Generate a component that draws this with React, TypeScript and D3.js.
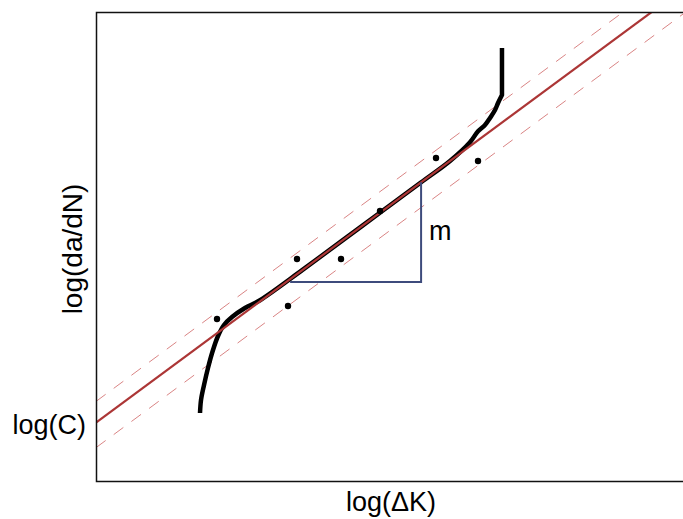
import React, { useEffect, useRef } from 'react';
import * as d3 from 'd3';

// Paris law fit: log(da/dN) = log(C) + m * log(dK)
const logC = 1.0;
const slope = 0.745;
const bandOffsets = [0.36, -0.43];

// crack growth curve (log dK, log da/dN); last point is the vertical tail top
const curveX = [1.763, 1.78, 1.831, 1.898, 1.983, 2.068, 2.169, 2.305, 2.525, 2.78, 3.5, 4.5, 5.5, 6.0, 6.339, 6.475, 6.593, 6.678, 6.763, 6.814, 6.881];
const curveY = [1.162, 1.385, 1.641, 1.932, 2.239, 2.479, 2.667, 2.803, 2.957, 3.09, 3.608, 4.353, 5.098, 5.47, 5.79, 5.98, 6.085, 6.205, 6.342, 6.462, 6.598];
const tailTopY = 7.402;

// measured points
const pointX = [2.051, 3.407, 4.153, 3.254, 4.814, 5.763, 6.475];
const pointY = [2.769, 3.795, 3.795, 2.991, 4.615, 5.521, 5.47];

// slope triangle
const triX = [3.29, 5.51];
const triBase = 3.4;

const xLabel = 'log(\u0394K)';
const yLabel = 'log(da/dN)';
const cLabel = 'log(C)';
const mLabel = 'm';

function App() {
  const svgRef = useRef<SVGSVGElement>(null);

  useEffect(() => {
    const svg = d3.select(svgRef.current);
    svg.selectAll('*').remove();

    const width = 683;
    const height = 519;
    const left = 96.5;
    const top = 12.5;
    const bottom = 481.5;
    const right = 700;

    svg.attr('width', width).attr('height', height);

    const x = d3.scaleLinear().domain([0, 10]).range([96, 686]);
    const y = d3.scaleLinear().domain([0, 8]).range([481, 13]);
    const font = 'Arial, "Liberation Sans", sans-serif';

    svg.append('rect').attr('width', width).attr('height', height).attr('fill', '#fff');

    svg.append('defs').append('clipPath').attr('id', 'plotclip')
      .append('rect').attr('x', left).attr('y', top).attr('width', right - left).attr('height', bottom - top);

    const plot = svg.append('g').attr('clip-path', 'url(#plotclip)');
    const fit = (v: number) => logC + slope * v;
    const xs = [0, 10];

    const lineGen = d3.line<[number, number]>().x(d => x(d[0])).y(d => y(d[1]));

    bandOffsets.forEach(off => {
      plot.append('path')
        .attr('d', lineGen(xs.map(v => [v, fit(v) + off] as [number, number])))
        .attr('fill', 'none')
        .attr('stroke', '#d98484')
        .attr('stroke-width', 1)
        .attr('stroke-dasharray', '12,10');
    });

    const curve = d3.line<number>()
      .x((_, i) => x(curveX[i]))
      .y((_, i) => y(curveY[i]))
      .curve(d3.curveCatmullRom);

    plot.append('path')
      .attr('d', curve(curveX) + `V${y(tailTopY)}`)
      .attr('fill', 'none')
      .attr('stroke', '#000')
      .attr('stroke-width', 4.5)
      .attr('stroke-linejoin', 'round');

    plot.append('path')
      .attr('d', lineGen(xs.map(v => [v, fit(v)] as [number, number])))
      .attr('fill', 'none')
      .attr('stroke', '#ac3636')
      .attr('stroke-width', 2.2);

    plot.append('path')
      .attr('d', `M${x(triX[0])},${y(triBase)}H${x(triX[1])}V${y(fit(triX[1]))}`)
      .attr('fill', 'none')
      .attr('stroke', '#3d4b7c')
      .attr('stroke-width', 2);

    plot.selectAll('circle.pt')
      .data(pointX)
      .enter()
      .append('circle')
      .attr('class', 'pt')
      .attr('cx', d => x(d))
      .attr('cy', (_, i) => y(pointY[i]))
      .attr('r', 3.2)
      .attr('fill', '#000');

    svg.append('path')
      .attr('d', `M${right},${top}H${left}V${bottom}H${right}`)
      .attr('fill', 'none')
      .attr('stroke', '#111')
      .attr('stroke-width', 1.5);

    svg.append('text')
      .attr('x', 391).attr('y', 511)
      .attr('text-anchor', 'middle')
      .style('font-family', font).style('font-size', '27px')
      .text(xLabel);

    svg.append('text')
      .attr('transform', 'translate(82,249) rotate(-90)')
      .attr('text-anchor', 'middle')
      .style('font-family', font).style('font-size', '28px')
      .text(yLabel);

    svg.append('text')
      .attr('x', 86).attr('y', y(logC) + 11)
      .attr('text-anchor', 'end')
      .style('font-family', font).style('font-size', '27px')
      .text(cLabel);

    svg.append('text')
      .attr('x', 429).attr('y', 240)
      .style('font-family', font).style('font-size', '27px')
      .text(mLabel);
  }, []);

  return <svg ref={svgRef} style={{ position: 'absolute', left: 0, top: 0 }}></svg>;
}

export default App;
